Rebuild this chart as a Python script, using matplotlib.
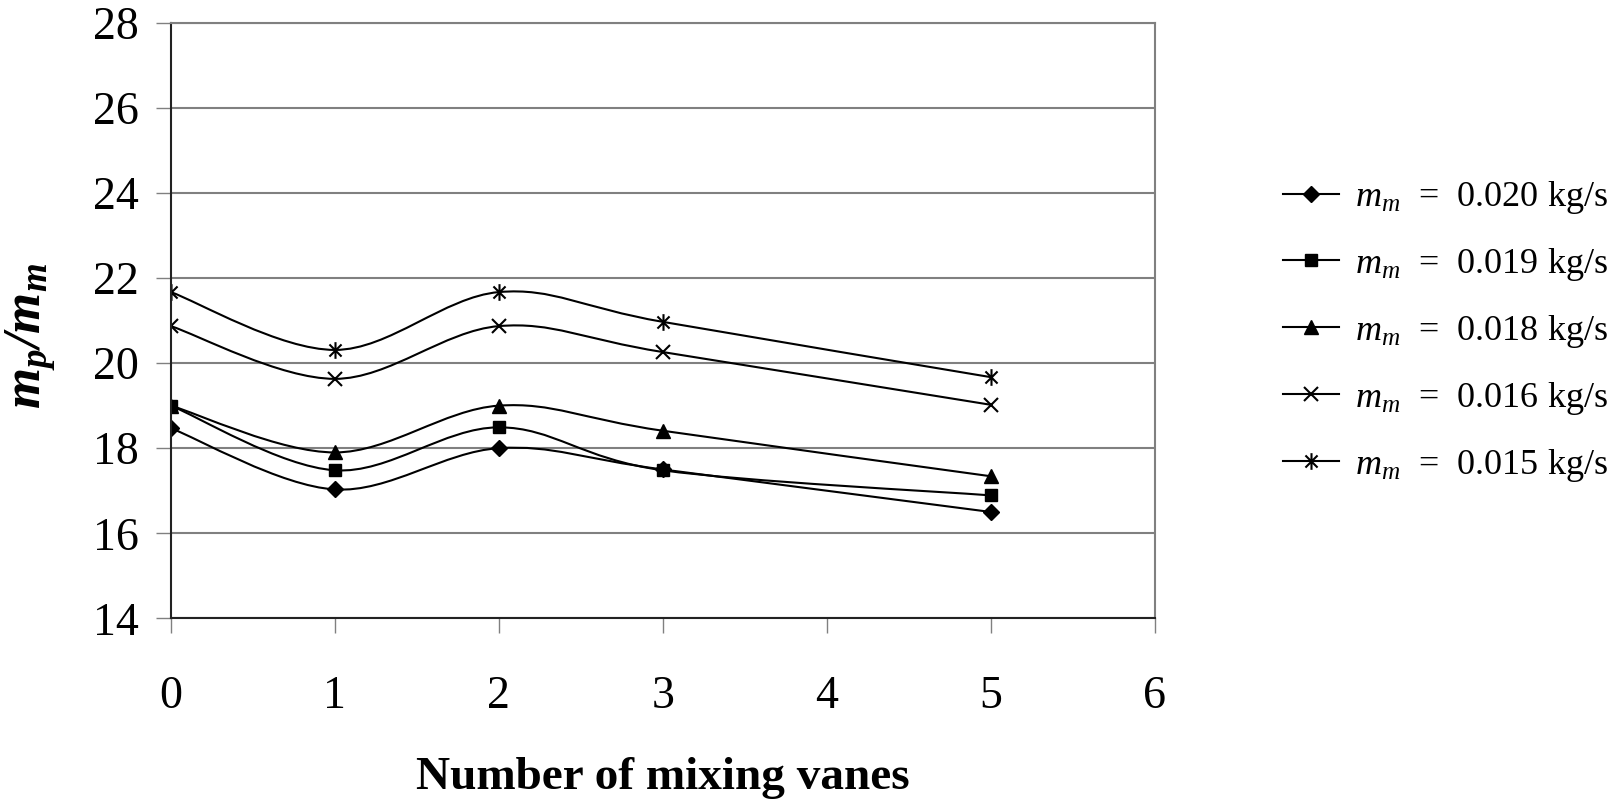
import matplotlib
matplotlib.use('Agg')
import matplotlib.pyplot as plt
from matplotlib.path import Path
from matplotlib.patches import PathPatch
from matplotlib.lines import Line2D
import numpy as np

# Datos
vanes = [0, 1, 2, 3, 5]
mm_020 = [18.47, 17.03, 18.00, 17.50, 16.50]
mm_019 = [19.00, 17.48, 18.49, 17.48, 16.89]
mm_018 = [19.00, 17.90, 19.00, 18.41, 17.34]
mm_016 = [20.87, 19.63, 20.87, 20.26, 19.02]
mm_015 = [21.67, 20.31, 21.67, 20.97, 19.67]

labels = ['0.020', '0.019', '0.018', '0.016', '0.015']

plt.rcParams['font.family'] = 'Liberation Serif'
plt.rcParams['mathtext.fontset'] = 'custom'
plt.rcParams['mathtext.rm'] = 'Liberation Serif'
plt.rcParams['mathtext.it'] = 'Liberation Serif:italic'
plt.rcParams['mathtext.bf'] = 'Liberation Serif:bold'
plt.rcParams['mathtext.bfit'] = 'Liberation Serif:bold:italic'

# marcador asterisco estilo Excel (x + línea vertical)
star = Path([(-0.8, -0.8), (0.8, 0.8), (-0.8, 0.8), (0.8, -0.8), (0, -1.1), (0, 1.1)],
            [Path.MOVETO, Path.LINETO, Path.MOVETO, Path.LINETO, Path.MOVETO, Path.LINETO])

styles = [
    dict(marker='D', ms=8, mfc='black'),
    dict(marker='s', ms=8.5, mfc='black'),
    dict(marker='^', ms=10, mfc='black'),
    dict(marker='x', ms=10, mew=1.5),
    dict(marker=star, ms=12, mew=1.5),
]


def smooth_path(x, y):
    # curva suavizada tipo Excel (Bezier con tangentes de Catmull-Rom)
    p = np.column_stack([x, y]).astype(float)
    n = len(p)
    verts = [p[0]]
    codes = [Path.MOVETO]
    for i in range(n - 1):
        p0 = p[i - 1] if i > 0 else p[i]
        p3 = p[i + 2] if i + 2 < n else p[i + 1]
        c1 = p[i] + (p[i + 1] - p0) / 6.0
        c2 = p[i + 1] - (p3 - p[i]) / 6.0
        verts += [c1, c2, p[i + 1]]
        codes += [Path.CURVE4] * 3
    return Path(verts, codes)


fig = plt.figure(figsize=(16.24, 8.07), dpi=100)
ax = fig.add_axes([0.1052, 0.2338, 0.6059, 0.7379])

series = [mm_020, mm_019, mm_018, mm_016, mm_015]
handles = []
for vals, st, lab in zip(series, styles, labels):
    ax.add_patch(PathPatch(smooth_path(vanes, vals), fill=False, lw=1.5, ec='black'))
    ax.plot(vanes, vals, ls='none', color='black', **st)
    handles.append(Line2D([], [], color='black', lw=1.5, **st))

ax.set_xlim(0, 6)
ax.set_ylim(14, 28)
ax.set_xticks(range(0, 7))
ax.set_yticks(range(14, 29, 2))
ax.yaxis.grid(True, color='#808080', lw=1.5)
ax.set_axisbelow(True)

for s in ['top', 'right']:
    ax.spines[s].set_color('#808080')
    ax.spines[s].set_linewidth(1.5)
for s in ['left', 'bottom']:
    ax.spines[s].set_color('#222222')
    ax.spines[s].set_linewidth(1.5)

ax.tick_params(axis='both', direction='out', length=11, width=1, color='#808080', labelsize=33)
ax.tick_params(axis='x', pad=30)
ax.tick_params(axis='y', pad=12)

ax.set_xlabel('Number of mixing vanes', fontsize=34, fontweight='bold', labelpad=28)
ax.set_ylabel(r'$\mathbfit{m}_{\mathbfit{p}}\mathbfit{/m}_{\mathbfit{m}}$', fontsize=38)
ax.yaxis.set_label_coords(-0.115, 0.474)

leg_labels = [r'$m_m$  =  ' + l + ' kg/s' for l in labels]
fig.legend(handles, leg_labels, loc='upper left', bbox_to_anchor=(0.790, 0.778),
           frameon=False, fontsize=26, handlelength=1.55, labelspacing=0.83,
           handletextpad=0.44, borderpad=0, borderaxespad=0)

fig.savefig('out.png', dpi=100)
